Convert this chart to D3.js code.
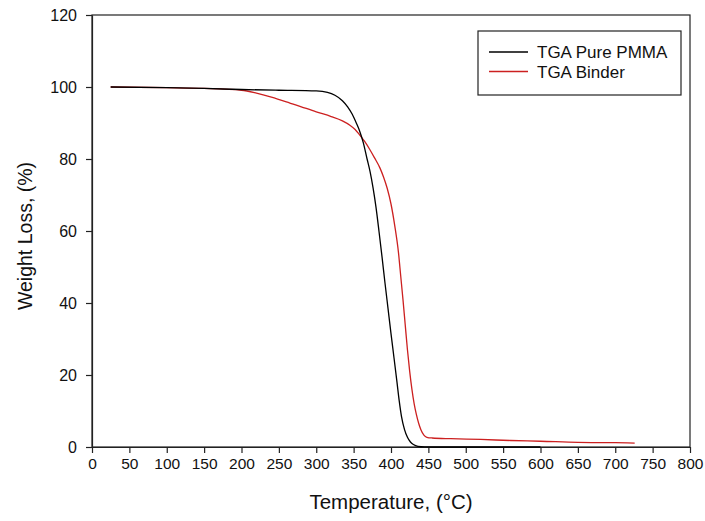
<!DOCTYPE html>
<html>
<head>
<meta charset="utf-8">
<script src="https://cdn.jsdelivr.net/npm/d3@7"></script>
<style>
  html, body { margin: 0; padding: 0; background: #fff; }
  svg { display: block; font-family: Arial, "Liberation Sans", sans-serif; }
</style>
</head>
<body>
<svg id="chart" width="705" height="521"></svg>
<script>
// Thermogravimetric curves: temperature (°C) vs remaining weight (%)
const pmmaTemp = [25, 100, 150, 200, 250, 300, 315, 325, 335, 342, 348, 354, 358, 363, 368, 372, 376, 380, 384, 388, 392, 396, 400, 404, 408, 411, 414, 418, 422, 426, 430, 436, 445, 470, 520, 600];
const pmmaWeight = [100, 99.8, 99.6, 99.3, 99.1, 98.9, 98.5, 97.7, 96.2, 94.5, 92.5, 89.8, 87.8, 84.5, 80, 76.5, 72, 66.5, 59.8, 52.8, 45.5, 38.5, 31.5, 24.8, 18, 12.8, 8.5, 4.9, 2.7, 1.4, 0.7, 0.2, 0.05, 0, 0, 0];

const binderTemp = [25, 100, 150, 200, 220, 240, 260, 280, 300, 320, 335, 345, 352, 358, 365, 372, 378, 385, 390, 395, 400, 405, 410, 413, 416, 419, 422, 425, 428, 431, 434, 437, 440, 444, 448, 455, 480, 520, 560, 600, 650, 700, 726];
const binderWeight = [100, 99.8, 99.6, 99.1, 98.3, 97.2, 95.9, 94.5, 93.1, 91.8, 90.6, 89.4, 88.2, 86.7, 84.8, 82.5, 80.3, 77.6, 75, 71.8, 67.5, 61.5, 54, 47.5, 41, 34, 27, 21, 16, 12, 9, 6.6, 4.8, 3.3, 2.7, 2.5, 2.3, 2.1, 1.8, 1.6, 1.3, 1.2, 1.1];

const xTicks = d3.range(0, 801, 50);
const yTicks = [0, 20, 40, 60, 80, 100, 120];

const seriesNames = ["TGA Pure PMMA", "TGA Binder"];
const seriesColors = ["#000000", "#cc2020"];

const svg = d3.select("#chart");
const margin = { left: 92, right: 15, top: 15, bottom: 74 };
const width = 705 - margin.left - margin.right;
const height = 521 - margin.top - margin.bottom;

const x = d3.scaleLinear().domain([0, 800]).range([margin.left, margin.left + width]);
const y = d3.scaleLinear().domain([0, 120]).range([margin.top + height, margin.top]);

const axisColor = "#222";

// Frame (top and right sides carry no ticks)
svg.append("rect")
  .attr("x", x(0)).attr("y", y(120))
  .attr("width", x(800) - x(0)).attr("height", y(0) - y(120))
  .attr("fill", "none").attr("stroke", axisColor).attr("stroke-width", 1.2);

// Bottom axis
const gx = svg.append("g")
  .attr("transform", `translate(0,${y(0)})`)
  .call(d3.axisBottom(x).tickValues(xTicks).tickSize(6).tickSizeOuter(0).tickPadding(5));
gx.select(".domain").attr("stroke", axisColor).attr("stroke-width", 1.2);
gx.selectAll(".tick line").attr("stroke", axisColor).attr("stroke-width", 1.2);
gx.selectAll(".tick text").attr("font-size", 15.5).attr("fill", "#111").attr("font-family", "Arial, 'Liberation Sans', sans-serif");

// Left axis
const gy = svg.append("g")
  .attr("transform", `translate(${x(0)},0)`)
  .call(d3.axisLeft(y).tickValues(yTicks).tickSize(6).tickSizeOuter(0).tickPadding(9));
gy.select(".domain").attr("stroke", axisColor).attr("stroke-width", 1.2);
gy.selectAll(".tick line").attr("stroke", axisColor).attr("stroke-width", 1.2);
gy.selectAll(".tick text").attr("font-size", 16).attr("fill", "#111").attr("font-family", "Arial, 'Liberation Sans', sans-serif");

// Axis titles
svg.append("text")
  .attr("x", (x(0) + x(800)) / 2).attr("y", 509)
  .attr("text-anchor", "middle").attr("font-size", 20.5).attr("fill", "#111")
  .text("Temperature, (°C)");

svg.append("text")
  .attr("transform", `translate(32,236) rotate(-90)`)
  .attr("text-anchor", "middle").attr("font-size", 19.5).attr("fill", "#111")
  .text("Weight Loss, (%)");

// Curves
const line = d3.line()
  .x(d => x(d[0]))
  .y(d => y(d[1]))
  .curve(d3.curveMonotoneX);

const series = [
  d3.zip(pmmaTemp, pmmaWeight),
  d3.zip(binderTemp, binderWeight)
];

const plot = svg.append("g");
// Binder drawn first, PMMA on top
[1, 0].forEach(i => {
  plot.append("path")
    .datum(series[i])
    .attr("d", line)
    .attr("fill", "none")
    .attr("stroke", seriesColors[i])
    .attr("stroke-width", 1.3);
});

// Legend
const lg = svg.append("g");
lg.append("rect")
  .attr("x", 478).attr("y", 31).attr("width", 203).attr("height", 64)
  .attr("fill", "#fff").attr("stroke", axisColor).attr("stroke-width", 1.2);
seriesNames.forEach((name, i) => {
  const cy = 52 + i * 19.5;
  lg.append("line")
    .attr("x1", 489).attr("x2", 528).attr("y1", cy).attr("y2", cy)
    .attr("stroke", seriesColors[i]).attr("stroke-width", 1.3);
  lg.append("text")
    .attr("x", 537).attr("y", cy + 6)
    .attr("font-size", 17).attr("fill", "#111")
    .text(name);
});
</script>
</body>
</html>
